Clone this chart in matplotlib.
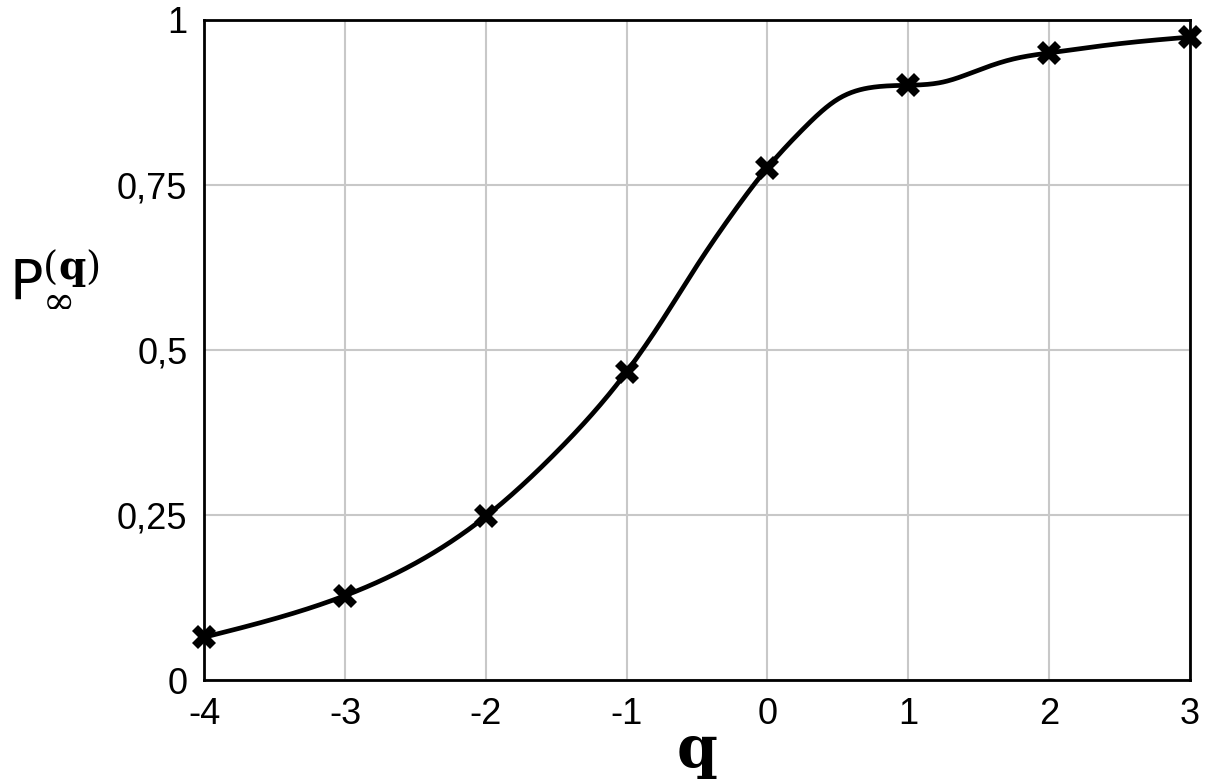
import matplotlib.pyplot as plt
import numpy as np

# marked points
q = np.array([-4, -3, -2, -1, 0, 1, 2, 3])
p_inf = np.array([0.065, 0.128, 0.248, 0.467, 0.776, 0.901, 0.950, 0.974])

# the smooth line at finer steps
q_curve = np.array([-4, -3, -2, -1.5, -1, -0.75, -0.5, -0.25, 0,
                    0.25, 0.5, 0.75, 1, 1.25, 1.5, 1.75, 2, 2.5, 3])
p_curve = np.array([0.065, 0.128, 0.248, 0.345, 0.467, 0.544, 0.628,
                    0.706, 0.776, 0.834, 0.880, 0.898, 0.901, 0.906, 0.924, 0.941,
                    0.950, 0.964, 0.974])

yticks = [0, 0.25, 0.5, 0.75, 1]
ytick_labels = ["0", "0,25", "0,5", "0,75", "1"]


def natural_spline(t, y, ts):
    n = len(t)
    h = np.diff(t)
    A = np.zeros((n, n))
    b = np.zeros(n)
    A[0, 0] = A[-1, -1] = 1
    for i in range(1, n - 1):
        A[i, i - 1] = h[i - 1]
        A[i, i] = 2 * (h[i - 1] + h[i])
        A[i, i + 1] = h[i]
        b[i] = 6 * ((y[i + 1] - y[i]) / h[i] - (y[i] - y[i - 1]) / h[i - 1])
    M = np.linalg.solve(A, b)
    idx = np.clip(np.searchsorted(t, ts) - 1, 0, n - 2)
    t0, t1 = t[idx], t[idx + 1]
    hh = t1 - t0
    a, c = t1 - ts, ts - t0
    return (M[idx] * a**3 / (6 * hh) + M[idx + 1] * c**3 / (6 * hh)
            + (y[idx] / hh - M[idx] * hh / 6) * a
            + (y[idx + 1] / hh - M[idx + 1] * hh / 6) * c)


plt.rcParams['font.family'] = ['Liberation Sans', 'DejaVu Sans']
plt.rcParams['mathtext.fontset'] = 'dejavuserif'

fig = plt.figure(figsize=(12.08, 7.8), dpi=100)
ax = fig.add_axes([0.169, 0.128, 0.816, 0.8465])

xs = np.linspace(q_curve[0], q_curve[-1], 700)
ax.plot(xs, natural_spline(q_curve.astype(float), p_curve, xs),
        color='black', lw=3.4, zorder=3)
ax.plot(q, p_inf, linestyle='None', marker='X', markersize=17, color='black',
        markeredgewidth=0, zorder=4, clip_on=False)

ax.set_xlim(-4, 3)
ax.set_ylim(0, 1)
ax.set_xticks(q)
ax.set_xticklabels([str(v) for v in q])
ax.set_yticks(yticks)
ax.set_yticklabels(ytick_labels)
ax.tick_params(length=0, labelsize=26, pad=12)
ax.grid(color='#c8c8c8', lw=1.5)
ax.set_axisbelow(True)
for s in ax.spines.values():
    s.set_linewidth(2)

ax.set_xlabel('q', fontsize=42, fontweight='bold', family='DejaVu Serif', labelpad=-6)
ax.set_ylabel(r'$\mathsf{P}_{\infty}^{(\mathbf{q})}$', fontsize=40, rotation=0,
              va='center', ha='center')
ax.yaxis.set_label_coords(-0.152, 0.61)

fig.savefig('out.png', dpi=100)
